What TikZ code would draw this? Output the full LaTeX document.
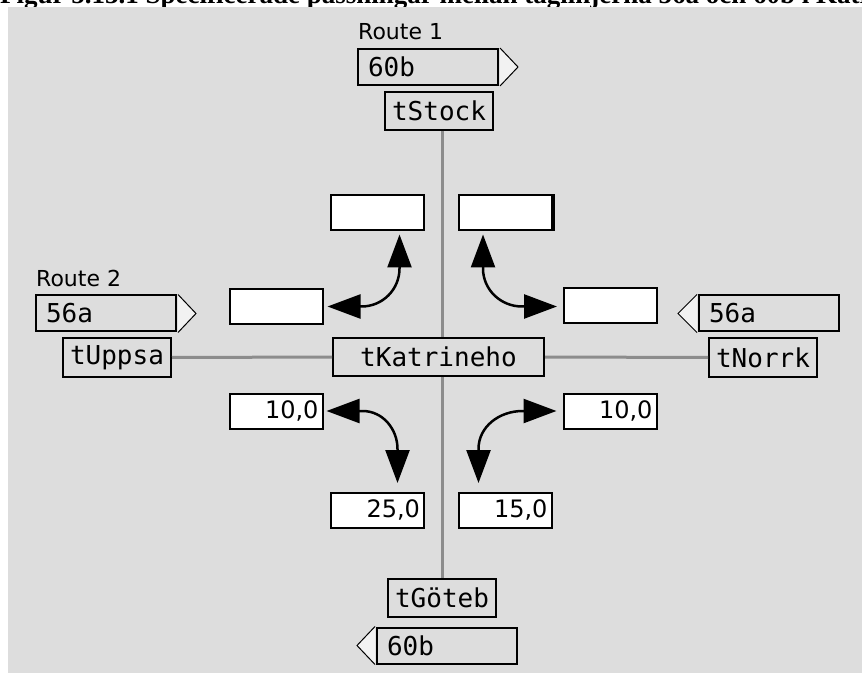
\documentclass[tikz,border=0pt]{standalone}
\usepackage{fontspec}
\usetikzlibrary{arrows.meta}
\newfontfamily\monof{DejaVu Sans Mono}
\newfontfamily\sansf{DejaVu Sans}
\newfontfamily\titlef{Liberation Serif}
\definecolor{bggray}{RGB}{221,221,221}
\definecolor{flagfill}{RGB}{242,242,242}
\definecolor{linegray}{RGB}{140,140,140}
\begin{document}
\begin{tikzpicture}[x=1pt,y=1pt,
  station/.style={draw, line width=2pt, minimum width=108pt, minimum height=38pt, inner sep=0pt, font=\monof\fontsize{26}{26}\selectfont},
  flag/.style={draw, line width=2pt, text width=120pt, align=left, inner xsep=10pt, inner ysep=0pt, minimum height=36pt, font=\monof\fontsize{26}{26}\selectfont},
  valbox/.style={draw, fill=white, line width=2pt, text width=85pt, align=right, inner xsep=4pt, inner ysep=0pt, minimum height=35pt, font=\sansf\fontsize{24}{24}\selectfont},
  routelbl/.style={anchor=base west, inner sep=0pt, font=\sansf\fontsize{22}{22}\selectfont},
  track/.style={draw=linegray, line width=3pt},
  turn/.style={{Triangle[length=33pt,width=24pt]}-{Triangle[length=33pt,width=24pt]}, line width=2.5pt},
  flagtip/.style={draw, fill=flagfill, line width=1pt, line join=miter}
]
\useasboundingbox (0,0) rectangle (862,673);
\node[anchor=base west, inner sep=0pt, font=\titlef\bfseries\fontsize{27}{27}\selectfont] (title) at (0,669.5) {Figur 5.13.1 Specificerade passningar mellan tåglinjerna 56a och 60b i Katrineholm};
\fill[bggray] (8,0) rectangle (862,666);

% route labels and flags
\node[routelbl] (r1) at (358,633) {Route 1};
\node[flag] (f60t) at (428,606) {60b};
\node[routelbl] (r2) at (36,386) {Route 2};
\node[flag] (f56l) at (106,359.5) {56a};
\node[flag] (f56r) at (769,359.5) {56a};
\node[flag] (f60b) at (447,27.5) {60b};
\filldraw[flagtip] ([xshift=1pt]f60t.north east) -- ([xshift=19pt]f60t.east) -- ([xshift=1pt]f60t.south east);
\filldraw[flagtip] ([xshift=1pt]f56l.north east) -- ([xshift=19pt]f56l.east) -- ([xshift=1pt]f56l.south east);
\filldraw[flagtip] ([xshift=-1pt]f56r.north west) -- ([xshift=-20pt]f56r.west) -- ([xshift=-1pt]f56r.south west);
\filldraw[flagtip] ([xshift=-1pt]f60b.north west) -- ([xshift=-19pt]f60b.west) -- ([xshift=-1pt]f60b.south west);

% stations
\node[station] (tStock) at (439,562) {tStock};
\node[station] (tUppsa) at (117,315.5) {tUppsa};
\node[station, minimum width=211pt] (tKat) at (438.5,316) {tKatrineho};
\node[station] (tNorrk) at (763,315.5) {tNorrk};
\node[station] (tGoteb) at (442,75) {tGöteb};

% tracks
\draw[track] (tStock.south -| tGoteb.north) -- (tKat.north -| tGoteb.north);
\draw[track] (tKat.south -| tGoteb.north) -- (tGoteb.north);
\draw[track] (tUppsa.east) -- (tKat.west);
\draw[track] (tKat.east) -- (tNorrk.west);

% value boxes
\node[valbox] (wUL) at (377.5,460) {};
\node[valbox] (wUR) at (505,460) {};
\node[valbox] (wML) at (276,366.5) {};
\node[valbox] (wMR) at (610,367) {};
\node[valbox] (wLL) at (276,262) {10,0};
\node[valbox] (wLR) at (610,262) {10,0};
\node[valbox] (wBL) at (377.5,163) {25,0};
\node[valbox] (wBR) at (505,163) {15,0};
\draw[line width=3.5pt] ([xshift=0.75pt]wUR.north east) -- ([xshift=0.75pt]wUR.south east);

% turning arrows
\draw[turn] ([xshift=4pt]wML.east) -- ++(34,0) to[out=0,in=-90] ++(38,38) -- ++(0,34);
\draw[turn] ([xshift=-22pt,yshift=-3pt]wUR.south) -- ++(0,-34) to[out=-90,in=180] ++(39,-38) -- ++(35,0);
\draw[turn] ([xshift=3pt]wLL.east) -- ++(36,0) to[out=0,in=90] ++(35,-38) -- ++(0,-34);
\draw[turn] ([xshift=-6pt]wLR.west) -- ++(-34,0) to[out=180,in=90] ++(-44,-38) -- ++(0,-34);
\end{tikzpicture}
\end{document}
